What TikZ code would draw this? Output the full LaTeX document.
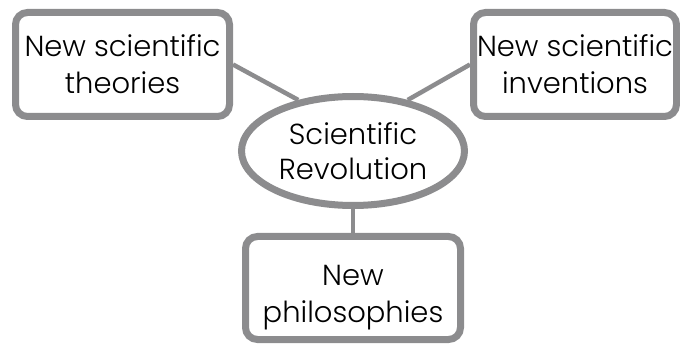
\documentclass[tikz,border=0pt]{standalone}
\usepackage{fontspec}
\setmainfont{Poppins Light}
\usetikzlibrary{shapes.geometric}
\definecolor{linegray}{RGB}{140,140,142}

\begin{document}
\begin{tikzpicture}[x=1pt,y=1pt,
box/.style={
	draw=linegray, line width=7pt, rectangle, rounded corners=12pt,
	fill=white, align=center, text=black,
	minimum width=214pt, minimum height=104pt,
	font=\fontsize{29}{37}\selectfont
},
hub/.style={
	draw=linegray, line width=7pt, ellipse, inner sep=0pt,
	fill=white, align=center, text=black,
	minimum width=223pt, minimum height=109pt,
	font=\fontsize{29}{35}\selectfont
},
link/.style={draw=linegray, line width=4.5pt}
]
\useasboundingbox (0,0) rectangle (680,343);
\node[hub] (rev) at (353,192) {Scientific\\Revolution};
\node[box] (theo) at (122.5,278.5) {New scientific\\theories};
\node[box, minimum width=203pt] (inv) at (575,278.5) {New scientific\\inventions};
\node[box, minimum width=215pt, minimum height=103pt] (phil) at (353,55) {\rule{0pt}{40pt}New\\philosophies};
\draw[link] (theo.east) -- (rev.137);
\draw[link] (inv.west) -- (rev.43);
\draw[link] (rev.south) -- (phil.north);
\end{tikzpicture}
\end{document}
